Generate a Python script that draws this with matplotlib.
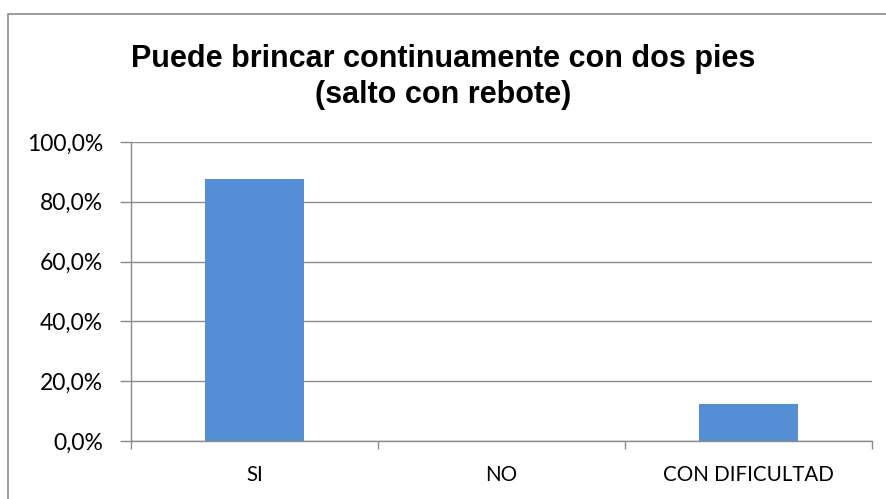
import numpy as np
import matplotlib.pyplot as plt
from matplotlib.patches import Rectangle

categories = ['SI', 'NO', 'CON DIFICULTAD']
values = [87.5, 0.0, 12.5]
yticks = [0, 20, 40, 60, 80, 100]

fig = plt.figure(figsize=(8.87, 4.99), dpi=100)
W, H = 887, 499

# outer chart border
fig.patches.append(Rectangle((8 / W, -0.01), 1.02, 1 - 14 / H + 0.01,
                             transform=fig.transFigure, fill=False,
                             edgecolor='#8c8c8c', linewidth=1.2))

ax = fig.add_axes([131 / W, 1 - 441 / H, (872 - 131) / W, (441 - 142) / H])
x = np.arange(len(categories))
ax.bar(x, values, width=0.4, color='#558ed5', zorder=3)

ax.set_xlim(-0.5, len(categories) - 0.5)
ax.set_ylim(0, 100)
ax.set_yticks(yticks)
ax.yaxis.set_major_formatter(plt.FuncFormatter(lambda v, p: ('%.1f%%' % v).replace('.', ',')))
ax.grid(axis='y', color='#8c8c8c', linewidth=1, zorder=0)

ax.set_xticks(x)
ax.set_xticklabels(categories)
ax.set_xticks(np.arange(-0.5, len(categories), 1), minor=True)
ax.tick_params(axis='x', which='major', length=0, pad=17)
ax.tick_params(axis='x', which='minor', length=6, color='#8c8c8c', width=1)
ax.tick_params(axis='y', length=8, color='#8c8c8c', width=1, pad=12)
for lab in ax.get_xticklabels():
    lab.set_fontfamily('Lato')
    lab.set_fontsize(14.8)
for lab in ax.get_yticklabels():
    lab.set_fontfamily('Lato')
    lab.set_fontsize(16.5)

for s in ['top', 'right']:
    ax.spines[s].set_visible(False)
for s in ['left', 'bottom']:
    ax.spines[s].set_color('#8c8c8c')
    ax.spines[s].set_linewidth(1)
    ax.spines[s].set_zorder(4)

fig.text(0.5, 1 - 77 / H, 'Puede brincar continuamente con dos pies\n(salto con rebote)',
         ha='center', va='center', fontsize=22, fontweight='bold',
         family='Liberation Sans', linespacing=1.22)

fig.savefig('out.png', dpi=100)
